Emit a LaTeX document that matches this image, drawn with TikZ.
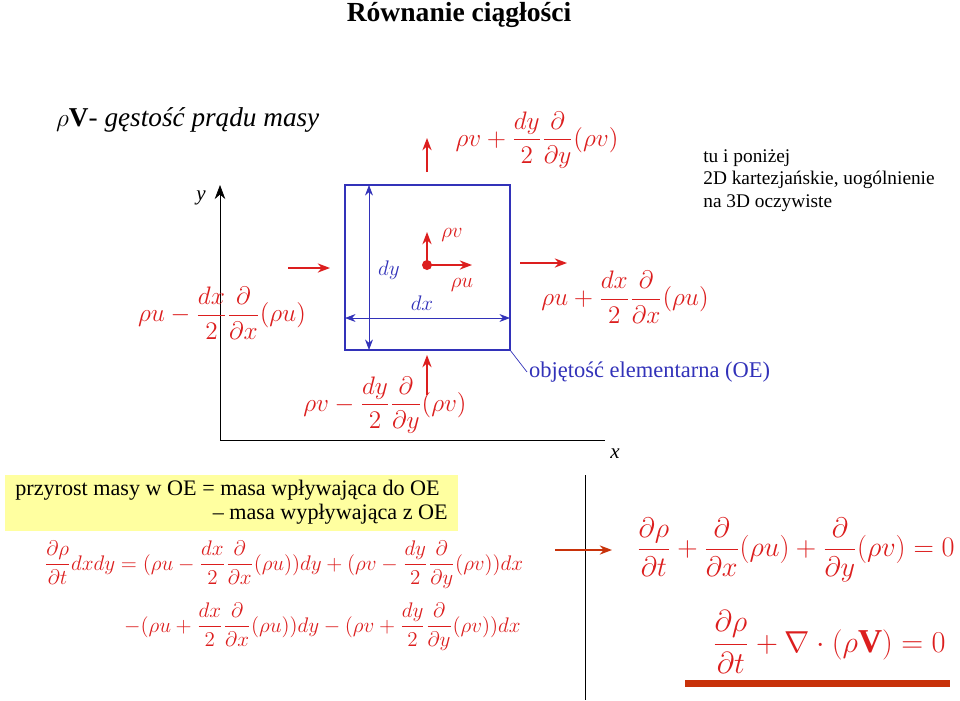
\documentclass[tikz,border=0pt]{standalone}
\usepackage{amsmath}
\usepackage{fontspec}
\setmainfont{Liberation Serif}
\usetikzlibrary{arrows.meta}
\definecolor{eqred}{RGB}{220,30,30}
\definecolor{boxblue}{RGB}{50,50,185}
\definecolor{notey}{RGB}{255,255,160}
\definecolor{barred}{RGB}{200,50,10}
\tikzset{
	flow/.style={eqred,thick,-{Stealth[length=7pt]}},
	dim/.style={boxblue,{Stealth[length=6pt]}-{Stealth[length=6pt]}},
	flux/.style={eqred,font=\fontsize{15.8}{19}\selectfont},
}
\begin{document}
\begin{tikzpicture}[x=0.02cm,y=-0.02cm]
	\useasboundingbox (0,0) rectangle (960,700);

	% title
	\node[font=\fontsize{15.7}{18}\selectfont\bfseries] (title) at (459,15) {Równanie ciągłości};
	\node[anchor=west,font=\fontsize{15.5}{18}\selectfont\itshape] (def) at (50,120) {$\rho\mathbf{V}$- gęstość prądu masy};

	% axes
	\draw[-{Stealth[length=8pt]}] (220,440) -- (220,185);
	\draw (220,440) -- (605,440);
	\node[font=\fontsize{12}{14}\selectfont\itshape] (ylab) at (201,198) {y};
	\node[font=\fontsize{12}{14}\selectfont\itshape] (xlab) at (615,454) {x};

	% element
	\draw[boxblue,thick] (345,185) rectangle (510,350);
	\coordinate (dyt) at (369,185);
	\coordinate (dyb) at (369,350);
	\coordinate (dxl) at (345,318);
	\coordinate (dxr) at (510,318);
	\draw[dim] (dyt) -- (dyb);
	\draw[dim] (dxl) -- (dxr);
	\node[boxblue,font=\fontsize{13}{15}\selectfont] (dy) at (389,270) {$dy$};
	\node[boxblue,font=\fontsize{13}{15}\selectfont] (dx) at (422,303) {$dx$};

	% centre point
	\fill[eqred] (427,265) circle (5);
	\coordinate (c) at (427,265);
	\draw[flow] (c) -- (427,232);
	\draw[flow] (c) -- (472,265);
	\node[eqred,font=\fontsize{13}{15}\selectfont] (rv) at (452,235) {$\rho v$};
	\node[eqred,font=\fontsize{13}{15}\selectfont] (ru) at (462,285) {$\rho u$};

	% fluxes
	\draw[flow] (288,268) -- (330,268);
	\draw[flow] (520,263) -- (567,263);
	\draw[flow] (427,172) -- (427,138);
	\draw[flow] (427,395) -- (427,355);
	\node[flux] (top) at (537,140) {$\rho v+\dfrac{dy}{2}\dfrac{\partial}{\partial y}(\rho v)$};
	\node[flux] (left) at (222,313) {$\rho u-\dfrac{dx}{2}\dfrac{\partial}{\partial x}(\rho u)$};
	\node[flux] (right) at (625,297) {$\rho u+\dfrac{dx}{2}\dfrac{\partial}{\partial x}(\rho u)$};
	\node[flux] (bottom) at (385,405) {$\rho v-\dfrac{dy}{2}\dfrac{\partial}{\partial y}(\rho v)$};

	% notes
	\node[anchor=north west,align=left,font=\fontsize{11}{12.8}\selectfont,inner sep=0] (note) at (703,149) {tu i poniżej\\2D kartezjańskie, uogólnienie\\na 3D oczywiste};
	\node[anchor=west,boxblue,font=\fontsize{12.8}{15}\selectfont,inner sep=1pt] (oe) at (527,372) {objętość elementarna (OE)};
	\draw[boxblue] (510,350) -- (oe.west);

	% balance
	\fill[notey] (5,475) rectangle (458,531);
	\node[anchor=west,font=\fontsize{12.6}{15}\selectfont,inner sep=0] (bal1) at (15,490) {przyrost masy w OE = masa wpływająca do OE};
	\node[anchor=east,font=\fontsize{12.6}{15}\selectfont,inner sep=0] (bal2) at (448,514) {-- masa wypływająca z OE};

	% equations
	\node[eqred,anchor=west,font=\fontsize{13}{15}\selectfont] (eq1) at (38,565) {$\dfrac{\partial\rho}{\partial t}dxdy=(\rho u-\dfrac{dx}{2}\dfrac{\partial}{\partial x}(\rho u))dy+(\rho v-\dfrac{dy}{2}\dfrac{\partial}{\partial y}(\rho v))dx$};
	\node[eqred,anchor=west,font=\fontsize{13}{15}\selectfont] (eq2) at (118,627) {$-(\rho u+\dfrac{dx}{2}\dfrac{\partial}{\partial x}(\rho u))dy-(\rho v+\dfrac{dy}{2}\dfrac{\partial}{\partial y}(\rho v))dx$};

	\draw (585,475) -- (585,700);
	\draw[flow,barred] (555,550) -- (612,550);
	\node[eqred,font=\fontsize{17.6}{21}\selectfont,scale=0.93,anchor=east,inner sep=0] (cont) at (955,550) {$\dfrac{\partial\rho}{\partial t}+\dfrac{\partial}{\partial x}(\rho u)+\dfrac{\partial}{\partial y}(\rho v)=0$};
	\node[eqred,font=\fontsize{19}{22}\selectfont] (div) at (829,642) {$\dfrac{\partial\rho}{\partial t}+\nabla\cdot(\rho\mathbf{V})=0$};
	\fill[barred] (685,680) rectangle (950,687);
\end{tikzpicture}
\end{document}
